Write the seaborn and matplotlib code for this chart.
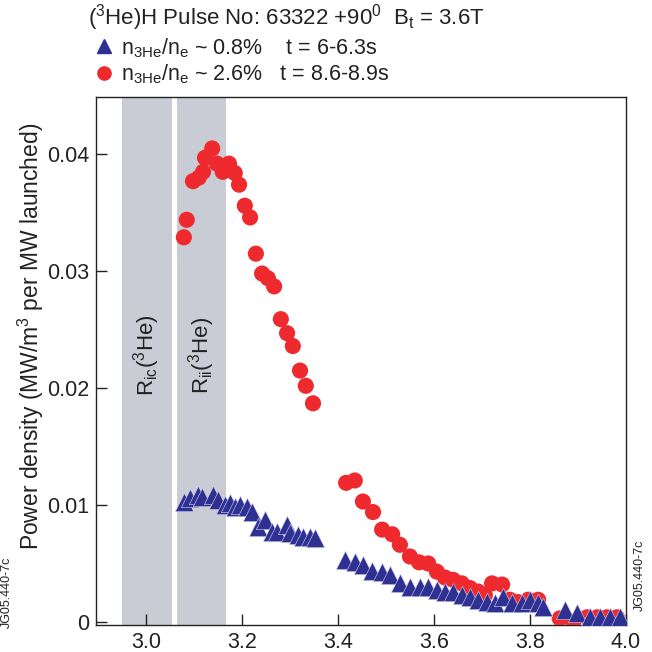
import matplotlib
matplotlib.use("Agg")
import matplotlib.pyplot as plt
from matplotlib.lines import Line2D
import seaborn as sns
import pandas as pd

# Major radius (m) and power density for n3He/ne ~ 2.6 %, t = 8.6-8.9 s
r_high = [3.079, 3.085, 3.098, 3.110, 3.119, 3.123, 3.138, 3.148, 3.160, 3.173,
          3.185, 3.194, 3.206, 3.217, 3.229, 3.242, 3.254, 3.267, 3.281, 3.294,
          3.306, 3.321, 3.333, 3.348, 3.417, 3.435, 3.452, 3.473, 3.492, 3.513,
          3.529, 3.550, 3.569, 3.588, 3.606, 3.623, 3.640, 3.658, 3.675, 3.692,
          3.706, 3.721, 3.742, 3.758, 3.775, 3.796, 3.817, 3.862, 3.890, 3.919,
          3.940, 3.960, 3.981]
p_high = [0.0329, 0.0344, 0.0377, 0.0380, 0.0385, 0.0397, 0.0405, 0.0392, 0.0385, 0.0392,
          0.0384, 0.0374, 0.0356, 0.0346, 0.0315, 0.0298, 0.0294, 0.0287, 0.0259, 0.0247,
          0.0236, 0.0215, 0.0202, 0.0187, 0.0119, 0.0121, 0.0103, 0.0094, 0.0079, 0.0075,
          0.0066, 0.0056, 0.0051, 0.0050, 0.0043, 0.0038, 0.0036, 0.0033, 0.0029, 0.0026,
          0.0023, 0.0033, 0.0032, 0.0019, 0.0017, 0.0019, 0.0019, 0.0003, 0.0000, 0.0004,
          0.0004, 0.0004, 0.0004]

# Major radius (m) and power density for n3He/ne ~ 0.8 %, t = 6-6.3 s
r_low = [3.079, 3.092, 3.108, 3.117, 3.140, 3.150, 3.165, 3.175, 3.185, 3.196,
         3.210, 3.221, 3.233, 3.248, 3.263, 3.273, 3.294, 3.300, 3.317, 3.327,
         3.342, 3.352, 3.415, 3.435, 3.452, 3.471, 3.492, 3.508, 3.529, 3.550,
         3.571, 3.588, 3.606, 3.623, 3.640, 3.658, 3.675, 3.692, 3.710, 3.727,
         3.744, 3.763, 3.783, 3.800, 3.817, 3.827, 3.873, 3.898, 3.925, 3.946,
         3.967, 3.988]
p_low = [0.0103, 0.0106, 0.0109, 0.0107, 0.0109, 0.0104, 0.0100, 0.0102, 0.0098, 0.0100,
         0.0098, 0.0094, 0.0081, 0.0087, 0.0077, 0.0077, 0.0083, 0.0076, 0.0074, 0.0073,
         0.0073, 0.0072, 0.0053, 0.0051, 0.0049, 0.0044, 0.0043, 0.0040, 0.0033, 0.0030,
         0.0030, 0.0030, 0.0027, 0.0026, 0.0026, 0.0023, 0.0021, 0.0019, 0.0017, 0.0016,
         0.0021, 0.0016, 0.0016, 0.0019, 0.0016, 0.0013, 0.0010, 0.0008, 0.0004, 0.0004,
         0.0004, 0.0004]

# Resonance layers (ion cyclotron and ion-ion hybrid) for 3He
band_ic = (2.950, 3.054)
band_ii = (3.065, 3.167)
band_labels = [r"R$_{\rm ic}$($^3$He)", r"R$_{\rm ii}$($^3$He)"]

x_ticks = [3.0, 3.2, 3.4, 3.6, 3.8, 4.0]
y_ticks = [0, 0.01, 0.02, 0.03, 0.04]
y_ticklabels = ["0", "0.01", "0.02", "0.03", "0.04"]

title = r"($^3$He)H Pulse No: 63322 +90$^0$  B$_t$ = 3.6T"
legend_labels = [r"n$_{\rm 3He}$/n$_{\rm e}$ ~ 0.8%    t = 6-6.3s",
                 r"n$_{\rm 3He}$/n$_{\rm e}$ ~ 2.6%   t = 8.6-8.9s"]
ylabel = r"Power density (MW/m$^3$ per MW launched)"
stamp = "JG05.440-7c"

BLUE = "#2e3192"
RED = "#ee2a2f"
BAND = "#c9ccd4"
INK = "#222222"

sns.set_style("ticks")
plt.rcParams["font.family"] = ["Liberation Sans", "DejaVu Sans"]
plt.rcParams["mathtext.default"] = "regular"
plt.rcParams["mathtext.fontset"] = "custom"
plt.rcParams["mathtext.rm"] = "Liberation Sans"
plt.rcParams["mathtext.it"] = "Liberation Sans:italic"

df_high = pd.DataFrame({"R": r_high, "P": p_high})
df_low = pd.DataFrame({"R": r_low, "P": p_low})

fig = plt.figure(figsize=(6.52, 6.52), dpi=100)
ax = fig.add_axes([96 / 652, 1 - 625 / 652, 530 / 652, 528 / 652])

for (a, b), lab in zip([band_ic, band_ii], band_labels):
    ax.axvspan(a, b, color=BAND, lw=0, zorder=0)
    ax.text((a + b) / 2, 0.0228, lab, rotation=90, ha="center", va="center",
            fontsize=16, color=INK, zorder=1)

sns.scatterplot(data=df_high, x="R", y="P", ax=ax, marker="o", s=135,
                color=RED, edgecolor="none", linewidth=0, zorder=3)
sns.scatterplot(data=df_low, x="R", y="P", ax=ax, marker="^", s=175,
                color=BLUE, edgecolor="#d8d8f0", linewidth=0.4, zorder=4)

ax.set_xlim(2.896, 4.0)
ax.set_ylim(-0.00026, 0.0449)
ax.set_xticks(x_ticks)
ax.set_xticklabels([f"{v:.1f}" for v in x_ticks])
ax.set_yticks(y_ticks)
ax.set_yticklabels(y_ticklabels)
ax.tick_params(direction="in", length=8, width=1, labelsize=15.5, pad=5, colors=INK)
ax.set_xlabel("")
ax.set_ylabel(ylabel, fontsize=16.5, color=INK)
ax.yaxis.set_label_coords(-0.094, 0.547)
for sp in ax.spines.values():
    sp.set_visible(True)
    sp.set_linewidth(1.0)
    sp.set_color(INK)

fig.text(88 / 652, 1 - 18 / 652, title, fontsize=16, ha="left", va="center", color=INK)

handles = [Line2D([], [], ls="", marker="^", color=BLUE, ms=10),
           Line2D([], [], ls="", marker="o", color=RED, ms=9.5)]
leg = fig.legend(handles, legend_labels, loc="upper left",
                 bbox_to_anchor=(93 / 652, 1 - 36 / 652), frameon=False,
                 fontsize=15.5, handlelength=1.0, handletextpad=0.3,
                 labelspacing=0.15, borderpad=0, borderaxespad=0)
for t in leg.get_texts():
    t.set_color(INK)

fig.text(640 / 652, 1 - 575 / 652, stamp, rotation=90, fontsize=9,
         ha="center", va="center", color=INK)
fig.text(7 / 652, 1 - 592 / 652, stamp, rotation=90, fontsize=9,
         ha="center", va="center", color=INK)

fig.savefig("out.png", dpi=100)
